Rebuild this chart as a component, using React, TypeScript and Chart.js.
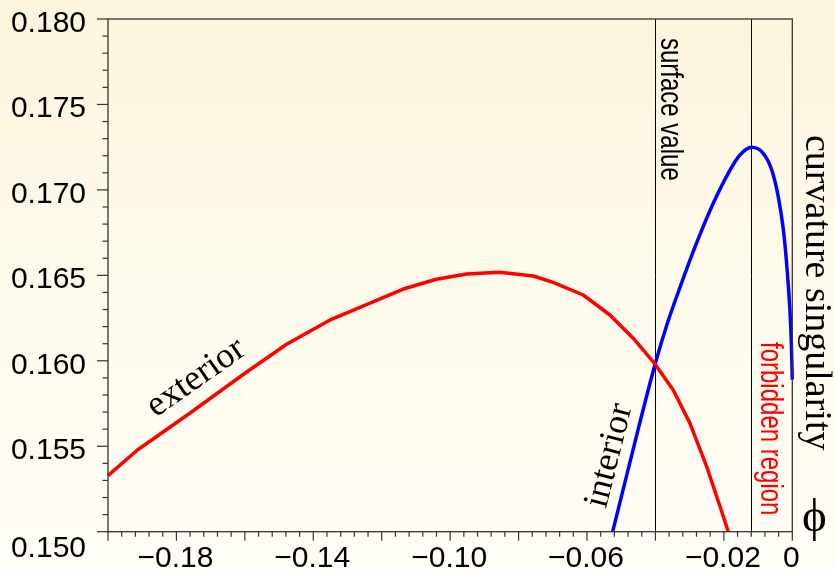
import React, { useEffect, useRef } from 'react';
import { Chart, registerables } from 'chart.js';

Chart.register(...registerables);

// exterior solution (red)
const EXT_PHI = [-0.2, -0.1914, -0.1761, -0.1605, -0.1478, -0.1347, -0.1137, -0.104, -0.0952, -0.0855, -0.0757, -0.0699, -0.0611, -0.0533, -0.0465, -0.0401, -0.0348, -0.0299, -0.025, -0.0211, -0.0187];
const EXT_VAL = [0.15328, 0.15478, 0.15693, 0.1592, 0.16097, 0.16243, 0.1642, 0.16477, 0.16508, 0.16518, 0.16496, 0.16459, 0.16385, 0.16268, 0.16132, 0.1598, 0.15829, 0.15634, 0.1538, 0.15146, 0.15];

// interior solution (blue)
const INT_PHI = [-0.0525, -0.0446, -0.0401, -0.0367, -0.0328, -0.028, -0.0231, -0.0182, -0.0153, -0.0119, -0.0085, -0.006, -0.0041, -0.0026, -0.0015, -0.0007, -0.0003, 0];
const INT_VAL = [0.15, 0.15635, 0.1598, 0.16208, 0.16431, 0.16688, 0.16922, 0.17116, 0.17204, 0.17249, 0.17214, 0.17116, 0.1696, 0.16765, 0.16531, 0.16297, 0.1612, 0.1589];

// vertical marker lines: surface value, forbidden region boundary
const MARKERS = [-0.04, -0.012];

const X_TICK_VALUES = [-0.18, -0.14, -0.1, -0.06, -0.02, 0];
const X_TICK_LABELS = ['\u22120.18', '\u22120.14', '\u22120.10', '\u22120.06', '\u22120.02', '0'];
const Y_TICK_VALUES = [0.15, 0.155, 0.16, 0.165, 0.17, 0.175, 0.18];
const Y_TICK_LABELS = ['0.150', '0.155', '0.160', '0.165', '0.170', '0.175', '0.180'];

const X_MIN = -0.2, X_MAX = 0, Y_MIN = 0.15, Y_MAX = 0.18;

const SANS = '"Liberation Sans", Arial, Helvetica, sans-serif';
const SERIF = '"Liberation Serif", "Times New Roman", serif';

function rotText(ctx: CanvasRenderingContext2D, str: string, x: number, y: number, angle: number, font: string, color: string, sx: number, align: CanvasTextAlign, dy: number) {
  ctx.save();
  ctx.translate(x, y);
  ctx.rotate(angle);
  ctx.scale(sx, 1);
  ctx.font = font;
  ctx.fillStyle = color;
  ctx.textAlign = align;
  ctx.textBaseline = 'alphabetic';
  ctx.fillText(str, 0, dy);
  ctx.restore();
}

const overlay = {
  id: 'overlay',
  beforeDatasetsDraw(chart: any) {
    const { ctx, chartArea: a, scales } = chart;
    const x = scales.x;
    ctx.save();
    ctx.strokeStyle = '#000';
    ctx.lineWidth = 1;
    for (const m of MARKERS) {
      const px = Math.round(x.getPixelForValue(m)) + 0.5;
      ctx.beginPath();
      ctx.moveTo(px, a.top);
      ctx.lineTo(px, a.bottom);
      ctx.stroke();
    }
    ctx.restore();
  },
  afterDraw(chart: any) {
    const { ctx, chartArea: a, scales } = chart;
    const x = scales.x, y = scales.y;
    ctx.save();
    // frame
    ctx.strokeStyle = '#333';
    ctx.lineWidth = 1.3;
    ctx.strokeRect(a.left, a.top, a.right - a.left, a.bottom - a.top);
    // x ticks
    ctx.lineWidth = 1.2;
    for (let i = 0; i <= 50; i++) {
      const v = X_MIN + i * 0.004;
      const px = x.getPixelForValue(v);
      const len = i % 5 === 0 ? 9 : 5;
      ctx.beginPath();
      ctx.moveTo(px, a.bottom);
      ctx.lineTo(px, a.bottom + len);
      ctx.stroke();
    }
    // y ticks
    for (let i = 0; i <= 30; i++) {
      const v = Y_MIN + i * 0.001;
      const py = y.getPixelForValue(v);
      const len = i % 5 === 0 ? 11 : 5.5;
      ctx.beginPath();
      ctx.moveTo(a.left, py);
      ctx.lineTo(a.left - len, py);
      ctx.stroke();
    }
    // tick labels
    ctx.fillStyle = '#000';
    ctx.font = '30px ' + SANS;
    ctx.textBaseline = 'alphabetic';
    ctx.textAlign = 'right';
    Y_TICK_VALUES.forEach((v, i) => {
      const py = y.getPixelForValue(v);
      const off = v === Y_MIN ? 25 : 13;
      ctx.fillText(Y_TICK_LABELS[i], a.left - 22, py + off);
    });
    ctx.textAlign = 'center';
    X_TICK_VALUES.forEach((v, i) => {
      const px = x.getPixelForValue(v);
      ctx.fillText(X_TICK_LABELS[i], px - 1, a.bottom + 35.5);
    });
    ctx.restore();

    // annotations
    const sx = x.getPixelForValue(MARKERS[0]);
    const fx = x.getPixelForValue(MARKERS[1]);
    rotText(ctx, 'surface value', sx + 6, a.top + 19, Math.PI / 2, '32px ' + SANS, '#000', 0.75, 'left', 0);
    rotText(ctx, 'forbidden region', fx + 10, a.top + 323, Math.PI / 2, '32px ' + SANS, '#ff0000', 0.75, 'left', 0);
    rotText(ctx, 'curvature singularity', a.right + 14, a.top + 116, Math.PI / 2, '38px ' + SERIF, '#000', 1, 'left', 0);
    rotText(ctx, 'exterior', 197, 379, -35 * Math.PI / 180, '36px ' + SERIF, '#000', 1, 'center', 8);
    rotText(ctx, 'interior', 611, 456, -75.8 * Math.PI / 180, '36px ' + SERIF, '#000', 1, 'center', 8);
    ctx.save();
    ctx.font = '47px ' + SERIF;
    ctx.fillStyle = '#000';
    ctx.textAlign = 'center';
    ctx.textBaseline = 'alphabetic';
    ctx.fillText('\u03D5', a.right + 22, a.bottom - 1);
    ctx.restore();
  },
};

export default function App() {
  const ref = useRef<HTMLCanvasElement>(null);
  useEffect(() => {
    const canvas = ref.current!;
    const chart = new Chart(canvas, {
      type: 'line',
      data: {
        datasets: [
          {
            label: 'exterior',
            data: EXT_PHI.map((p, i) => ({ x: p, y: EXT_VAL[i] })),
            borderColor: '#ff0000',
            borderWidth: 3.5,
            borderJoinStyle: 'round',
            pointRadius: 0,
            tension: 0,
            clip: false as any,
          },
          {
            label: 'interior',
            data: INT_PHI.map((p, i) => ({ x: p, y: INT_VAL[i] })),
            borderColor: '#0000ff',
            borderWidth: 3.5,
            pointRadius: 0,
            cubicInterpolationMode: 'monotone',
            clip: false as any,
          },
        ],
      },
      options: {
        responsive: false,
        animation: false,
        devicePixelRatio: 1,
        layout: { padding: { left: 108, top: 19, right: 42.7, bottom: 37.3 } },
        plugins: { legend: { display: false }, tooltip: { enabled: false } },
        scales: {
          x: { type: 'linear', min: X_MIN, max: X_MAX, display: false },
          y: { type: 'linear', min: Y_MIN, max: Y_MAX, display: false },
        },
      },
      plugins: [overlay],
    });
    return () => chart.destroy();
  }, []);
  return (
    <div
      style={{
        position: 'fixed',
        left: 0,
        top: 0,
        width: 835,
        height: 569,
        background: 'linear-gradient(to bottom, #fcf5dd 0%, #fefaeb 50%, #fffdf6 100%)',
      }}
    >
      <canvas ref={ref} width={835} height={569} style={{ display: 'block' }} />
    </div>
  );
}
